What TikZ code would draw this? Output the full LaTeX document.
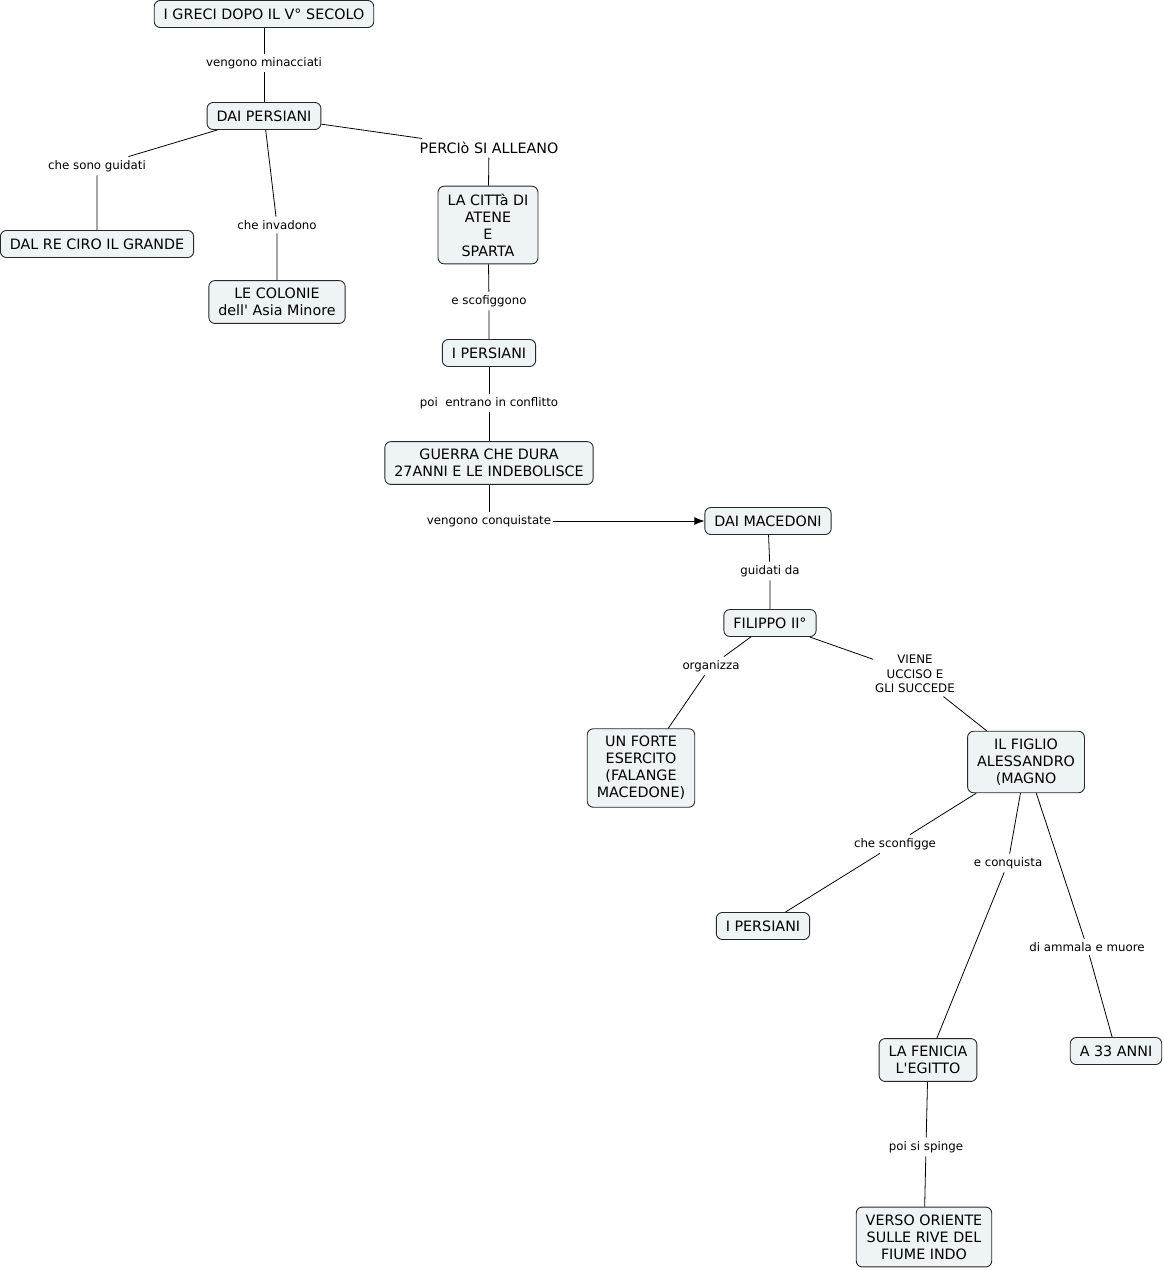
\documentclass[tikz,border=0pt]{standalone}
\usepackage{fontspec}
\setmainfont{DejaVu Sans}
\usetikzlibrary{arrows.meta}
\definecolor{nodefill}{RGB}{238,243,245}
\definecolor{nodeline}{RGB}{40,40,40}
\tikzset{
  concept/.style={draw=nodeline, line width=0.9pt, fill=nodefill, rounded corners=6pt,
    align=center, inner xsep=9.5pt, inner ysep=7.5pt,
    font=\fontsize{14.3}{17}\selectfont},
  single/.style={concept, minimum height=27pt},
  lab/.style={align=center, inner xsep=2pt, inner ysep=3.5pt,
    font=\fontsize{11.8}{14.5}\selectfont},
  biglab/.style={align=center, inner xsep=2pt, inner ysep=3.5pt,
    font=\fontsize{14.3}{17}\selectfont},
  link/.style={draw=black, line width=0.8pt},
}
\begin{document}
\begin{tikzpicture}[x=1pt,y=-1pt]
\useasboundingbox (0,0) rectangle (1164,1270);
% concepts
\node[single] (grec) at (264,14) {I GRECI DOPO IL V° SECOLO};
\node[single] (daip) at (264,116) {DAI PERSIANI};
\node[single] (ciro) at (97,244) {DAL RE CIRO IL GRANDE};
\node[concept] (colon) at (277,302) {LE COLONIE\\dell\textquotesingle{} Asia Minore};
\node[concept] (citta) at (488,225) {LA CITTà DI\\ATENE\\E\\SPARTA};
\node[single] (pers1) at (489,353) {I PERSIANI};
\node[concept] (guerra) at (489,463) {GUERRA CHE DURA\\27ANNI E LE INDEBOLISCE};
\node[single] (mac) at (768,521) {DAI MACEDONI};
\node[single] (fil) at (770,623) {FILIPPO II°};
\node[concept] (forte) at (641,768) {UN FORTE\\ESERCITO\\(FALANGE\\MACEDONE)};
\node[concept] (figlio) at (1026,762) {IL FIGLIO\\ALESSANDRO\\(MAGNO};
\node[single] (pers2) at (763,926) {I PERSIANI};
\node[concept] (fen) at (928,1060) {LA FENICIA\\L\textquotesingle EGITTO};
\node[single] (a33) at (1116,1051) {A 33 ANNI};
\node[concept] (verso) at (924,1237) {VERSO ORIENTE\\SULLE RIVE DEL\\FIUME INDO};
% linking phrases
\node[lab] (l1) at (264,63) {vengono minacciati};
\node[lab] (l2) at (97,166) {che sono guidati};
\node[lab] (l3) at (277,225) {che invadono};
\node[biglab] (l4) at (489,148) {PERCIò SI ALLEANO};
\node[lab] (l5) at (489,301) {e scofiggono};
\node[lab] (l6) at (489,403) {poi\ \ entrano in conflitto};
\node[lab] (l7) at (489,521) {vengono conquistate};
\node[lab] (l8) at (770,571) {guidati da};
\node[lab] (l9) at (711,666) {organizza};
\node[lab] (l10) at (915,674) {VIENE\\UCCISO E\\GLI SUCCEDE};
\node[lab] (l11) at (895,844) {che sconfigge};
\node[lab] (l12) at (1008,863) {e conquista};
\node[lab] (l13) at (1087,947) {di ammala e muore};
\node[lab] (l14) at (926,1147) {poi si spinge};
% connectors
\draw[link] (grec) -- (l1) (l1) -- (daip);
\draw[link] (daip) -- (l2) (l2) -- (ciro);
\draw[link] (daip) -- (l3) (l3) -- (colon);
\draw[link] (daip) -- (l4) (l4) -- (citta);
\draw[link] (citta) -- (l5) (l5) -- (pers1);
\draw[link] (pers1) -- (l6) (l6) -- (guerra);
\draw[link] (guerra) -- (l7);
\draw[link, -{Latex[length=10pt,width=8pt]}] (l7) -- (mac);
\draw[link] (mac) -- (l8) (l8) -- (fil);
\draw[link] (fil) -- (l9) (l9) -- (forte);
\draw[link] (fil) -- (l10) (l10) -- (figlio);
\draw[link] (figlio) -- (l11) (l11) -- (pers2);
\draw[link] (figlio) -- (l12) (l12) -- (fen);
\draw[link] (figlio) -- (l13) (l13) -- (a33);
\draw[link] (fen) -- (l14) (l14) -- (verso);
\end{tikzpicture}
\end{document}
